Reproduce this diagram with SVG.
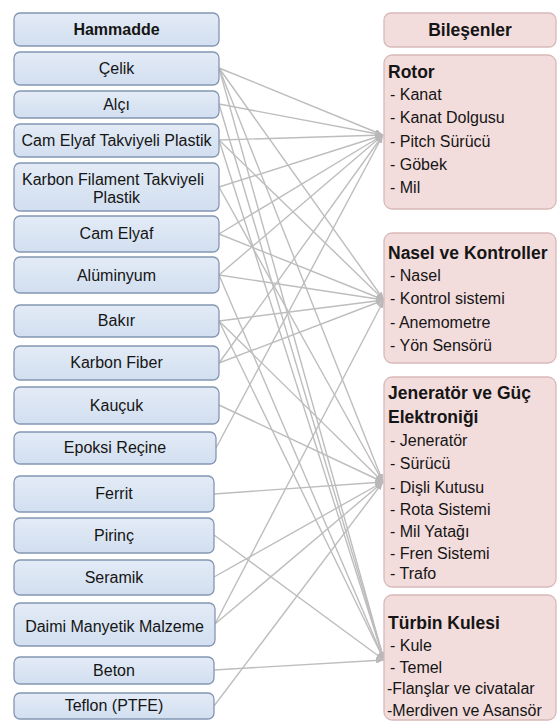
<svg xmlns="http://www.w3.org/2000/svg" width="558" height="726" viewBox="0 0 558 726">
<defs>
<marker id="arr" markerWidth="8" markerHeight="6" refX="8" refY="3" orient="auto" markerUnits="userSpaceOnUse">
<path d="M0,0 L8,3 L0,6 z" fill="#b8b8b8"/>
</marker>
<linearGradient id="gb" x1="0" y1="0" x2="0" y2="1">
<stop offset="0" stop-color="#e3ebf6"/>
<stop offset="1" stop-color="#d2dff0"/>
</linearGradient>
</defs>
<style>
.lb{fill:url(#gb);stroke:#8496b2;stroke-width:1.3}
.rb{fill:#f3dcdc;stroke:#d8b9b9;stroke-width:1.3}
.lt{font-family:"Liberation Sans",Arial,sans-serif;font-size:16px;fill:#151515;text-anchor:middle}
.hd{font-weight:bold}
.rt{font-family:"Liberation Sans",Arial,sans-serif;font-size:17.5px;font-weight:bold;fill:#151515}
.ri{font-family:"Liberation Sans",Arial,sans-serif;font-size:16px;fill:#151515}
.cn line{stroke:#bdbdbd;stroke-width:1.4;marker-end:url(#arr)}
</style>
<rect width="558" height="726" fill="#ffffff"/>

<g id="connectors" class="cn">
<line x1="219" y1="68" x2="383" y2="135"/>
<line x1="219" y1="68" x2="384" y2="300"/>
<line x1="219" y1="68" x2="383" y2="482"/>
<line x1="219" y1="68" x2="384" y2="660"/>
<line x1="219" y1="104" x2="383" y2="135"/>
<line x1="219" y1="104" x2="384" y2="660"/>
<line x1="219" y1="140" x2="383" y2="135"/>
<line x1="219" y1="140" x2="384" y2="300"/>
<line x1="219" y1="140" x2="384" y2="660"/>
<line x1="219" y1="187" x2="383" y2="135"/>
<line x1="219" y1="187" x2="383" y2="482"/>
<line x1="219" y1="234" x2="383" y2="135"/>
<line x1="219" y1="234" x2="384" y2="300"/>
<line x1="219" y1="275" x2="383" y2="135"/>
<line x1="219" y1="275" x2="384" y2="300"/>
<line x1="219" y1="275" x2="384" y2="660"/>
<line x1="219" y1="321" x2="384" y2="300"/>
<line x1="219" y1="321" x2="383" y2="482"/>
<line x1="219" y1="321" x2="384" y2="660"/>
<line x1="219" y1="363" x2="383" y2="135"/>
<line x1="219" y1="363" x2="384" y2="300"/>
<line x1="219" y1="405" x2="383" y2="482"/>
<line x1="216" y1="448" x2="383" y2="135"/>
<line x1="214" y1="494" x2="383" y2="482"/>
<line x1="214" y1="535" x2="384" y2="660"/>
<line x1="214" y1="577" x2="383" y2="482"/>
<line x1="215" y1="624" x2="384" y2="300"/>
<line x1="215" y1="624" x2="383" y2="482"/>
<line x1="214" y1="670" x2="384" y2="660"/>
<line x1="214" y1="706" x2="383" y2="482"/>
</g>

<g id="hammadde"><rect class="lb" x="14" y="13" width="205" height="33" rx="6"/><text class="lt hd" x="116.5" y="35">Hammadde</text></g>
<g id="celik"><rect class="lb" x="14" y="52" width="205" height="33" rx="6"/><text class="lt" x="116.5" y="74">Çelik</text></g>
<g id="alci"><rect class="lb" x="14" y="91" width="205" height="27" rx="6"/><text class="lt" x="116.5" y="110">Alçı</text></g>
<g id="cetp"><rect class="lb" x="14" y="124" width="205" height="33" rx="6"/><text class="lt" x="116.5" y="146">Cam Elyaf Takviyeli Plastik</text></g>
<g id="kftp"><rect class="lb" x="14" y="163" width="205" height="48" rx="6"/><text class="lt" x="113" y="185">Karbon Filament Takviyeli</text><text class="lt" x="116.5" y="203">Plastik</text></g>
<g id="camelyaf"><rect class="lb" x="14" y="216" width="205" height="36" rx="6"/><text class="lt" x="116.5" y="239">Cam Elyaf</text></g>
<g id="aluminyum"><rect class="lb" x="14" y="257" width="205" height="36" rx="6"/><text class="lt" x="116.5" y="281">Alüminyum</text></g>
<g id="bakir"><rect class="lb" x="14" y="305" width="205" height="32" rx="6"/><text class="lt" x="116.5" y="326">Bakır</text></g>
<g id="karbonfiber"><rect class="lb" x="14" y="346" width="205" height="34" rx="6"/><text class="lt" x="116.5" y="368">Karbon Fiber</text></g>
<g id="kaucuk"><rect class="lb" x="14" y="387" width="205" height="37" rx="6"/><text class="lt" x="116.5" y="411">Kauçuk</text></g>
<g id="epoksi"><rect class="lb" x="14" y="432" width="202" height="32" rx="6"/><text class="lt" x="115" y="453">Epoksi Reçine</text></g>
<g id="ferrit"><rect class="lb" x="14" y="476" width="200" height="36" rx="6"/><text class="lt" x="114" y="499">Ferrit</text></g>
<g id="pirinc"><rect class="lb" x="14" y="518" width="200" height="35" rx="6"/><text class="lt" x="114" y="541">Pirinç</text></g>
<g id="seramik"><rect class="lb" x="14" y="560" width="200" height="35" rx="6"/><text class="lt" x="114" y="583">Seramik</text></g>
<g id="daimi"><rect class="lb" x="14" y="603" width="201" height="43" rx="6"/><text class="lt" x="114.5" y="632">Daimi Manyetik Malzeme</text></g>
<g id="beton"><rect class="lb" x="14" y="657" width="200" height="27" rx="6"/><text class="lt" x="114" y="676">Beton</text></g>
<g id="teflon"><rect class="lb" x="14" y="693" width="200" height="26" rx="6"/><text class="lt" x="114" y="711">Teflon (PTFE)</text></g>

<g id="bilesenler"><rect class="rb" x="384" y="13" width="172" height="34" rx="7"/><text class="rt" x="470" y="36" text-anchor="middle">Bileşenler</text></g>
<g id="rotor"><rect class="rb" x="384" y="55" width="172" height="154" rx="8"/>
<text class="rt" x="388" y="78">Rotor</text>
<text class="ri" x="390" y="100">- Kanat</text>
<text class="ri" x="390" y="123">- Kanat Dolgusu</text>
<text class="ri" x="390" y="147">- Pitch Sürücü</text>
<text class="ri" x="390" y="170">- Göbek</text>
<text class="ri" x="390" y="193">- Mil</text>
</g>
<g id="nasel"><rect class="rb" x="384" y="233" width="172" height="130" rx="8"/>
<text class="rt" x="388" y="259">Nasel ve Kontroller</text>
<text class="ri" x="390" y="281">- Nasel</text>
<text class="ri" x="390" y="304">- Kontrol sistemi</text>
<text class="ri" x="390" y="328">- Anemometre</text>
<text class="ri" x="390" y="351">- Yön Sensörü</text>
</g>
<g id="jenerator"><rect class="rb" x="384" y="377" width="172" height="210" rx="8"/>
<text class="rt" x="388" y="399">Jeneratör ve Güç</text>
<text class="rt" x="388" y="423">Elektroniği</text>
<text class="ri" x="390" y="446">- Jeneratör</text>
<text class="ri" x="390" y="469">- Sürücü</text>
<text class="ri" x="390" y="493">- Dişli Kutusu</text>
<text class="ri" x="390" y="515">- Rota Sistemi</text>
<text class="ri" x="390" y="537">- Mil Yatağı</text>
<text class="ri" x="390" y="559">- Fren Sistemi</text>
<text class="ri" x="390" y="579">- Trafo</text>
</g>
<g id="turbin"><rect class="rb" x="384" y="595" width="172" height="125" rx="8"/>
<text class="rt" x="388" y="629">Türbin Kulesi</text>
<text class="ri" x="390" y="651">- Kule</text>
<text class="ri" x="390" y="673">- Temel</text>
<text class="ri" x="387" y="694">-Flanşlar ve civatalar</text>
<text class="ri" x="387" y="716">-Merdiven ve Asansör</text>
</g>
</svg>
